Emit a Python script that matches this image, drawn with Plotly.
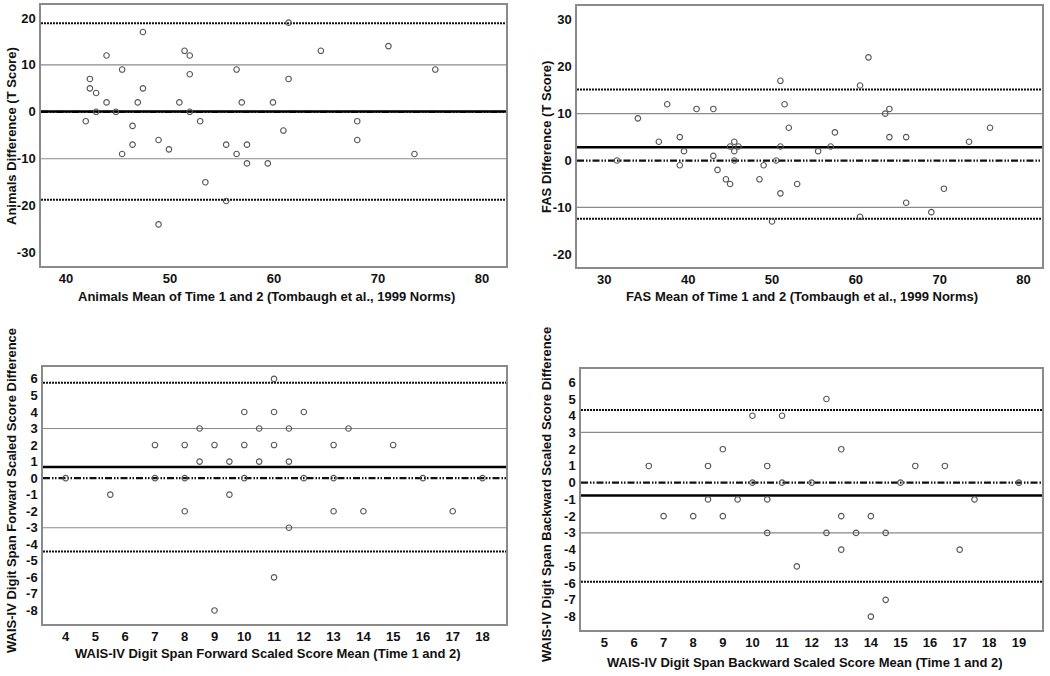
import plotly.graph_objects as go

# ---------------- data ----------------
# Animals (top-left)
animals_mean = [41.9, 42.3, 42.3, 42.9, 42.9, 43.9, 43.9, 44.8, 45.4, 45.4, 46.4, 46.4, 46.9,
                47.4, 47.4, 48.9, 48.9, 49.9, 50.9, 51.4, 51.9, 51.9, 51.9, 52.9, 53.4, 55.4,
                55.4, 56.4, 56.4, 56.9, 57.4, 57.4, 59.4, 59.9, 60.9, 61.4, 61.4, 64.5, 68.0,
                68.0, 71.0, 73.5, 75.5]
animals_diff = [-2, 7, 5, 4, 0, 12, 2, 0, 9, -9, -3, -7, 2,
                17, 5, -6, -24, -8, 2, 13, 12, 8, 0, -2, -15, -7,
                -19, 9, -9, 2, -7, -11, -11, 2, -4, 19, 7, 13, -2,
                -6, 14, -9, 9]
animals_lines = {"mean": 0.05, "upper": 18.85, "lower": -18.75, "ref": 10}

# FAS (top-right)
fas_mean = [31.5, 34.0, 36.5, 37.5, 39.0, 39.0, 39.5, 41.0, 43.0, 43.0, 43.5, 44.5, 45.0,
            45.0, 45.5, 45.5, 45.5, 46.0, 48.5, 49.0, 50.0, 50.5, 51.0, 51.0, 51.0, 51.5,
            52.0, 53.0, 55.5, 57.0, 57.5, 60.5, 60.5, 61.5, 63.5, 64.0, 64.0, 66.0, 66.0,
            69.0, 70.5, 73.5, 76.0]
fas_diff = [0, 9, 4, 12, 5, -1, 2, 11, 11, 1, -2, -4, -5,
            3, 4, 2, 0, 3, -4, -1, -13, 0, 17, 3, -7, 12,
            7, -5, 2, 3, 6, 16, -12, 22, 10, 11, 5, 5, -9,
            -11, -6, 4, 7]
fas_lines = {"mean": 2.85, "upper": 15.15, "lower": -12.4, "ref": 10}

# Digit Span Forward (bottom-left)
dsf_mean = [4, 5.5, 7, 7, 8, 8, 8, 8.5, 8.5, 9, 9, 9.5, 9.5, 10, 10, 10, 10.5, 10.5,
            11, 11, 11, 11, 11.5, 11.5, 11.5, 12, 12, 13, 13, 13, 13.5, 14, 15, 16, 17, 18]
dsf_diff = [0, -1, 2, 0, 2, 0, -2, 3, 1, 2, -8, 1, -1, 4, 2, 0, 3, 1,
            6, 4, 2, -6, 3, 1, -3, 4, 0, 2, 0, -2, 3, -2, 2, 0, -2, 0]
dsf_lines = {"mean": 0.67, "upper": 5.77, "lower": -4.43, "ref": 3}

# Digit Span Backward (bottom-right)
dsb_mean = [6.5, 7, 8, 8.5, 8.5, 9, 9, 9.5, 10, 10, 10.5, 10.5, 10.5, 11, 11, 11.5,
            12, 12.5, 12.5, 13, 13, 13, 13.5, 14, 14, 14.5, 14.5, 15, 15.5, 16.5, 17, 17.5, 19]
dsb_diff = [1, -2, -2, 1, -1, 2, -2, -1, 4, 0, 1, -1, -3, 4, 0, -5,
            0, 5, -3, 2, -2, -4, -3, -2, -8, -3, -7, 0, 1, 1, -4, -1, 0]
dsb_lines = {"mean": -0.77, "upper": 4.34, "lower": -5.92, "ref": 3}

# tick labels
tl_xticks = [40, 50, 60, 70, 80]
tl_yticks = [20, 10, 0, -10, -20, -30]
tr_xticks = [30, 40, 50, 60, 70, 80]
tr_yticks = [30, 20, 10, 0, -10, -20]
bl_xticks = list(range(4, 19))
bl_yticks = list(range(6, -9, -1))
br_xticks = list(range(5, 20))
br_yticks = list(range(6, -9, -1))

# titles
tl_xtitle = "Animals Mean of Time 1 and 2 (Tombaugh et al., 1999 Norms)"
tl_ytitle = "Animals Difference (T Score)"
tr_xtitle = "FAS Mean of Time 1 and 2 (Tombaugh et al., 1999 Norms)"
tr_ytitle = "FAS Difference (T Score)"
bl_xtitle = "WAIS-IV Digit Span Forward Scaled Score Mean (Time 1 and 2)"
bl_ytitle = "WAIS-IV Digit Span Forward Scaled Score Difference"
br_xtitle = "WAIS-IV Digit Span Backward Scaled Score Mean (Time 1 and 2)"
br_ytitle = "WAIS-IV Digit Span Backward Scaled Score Difference"

# ---------------- layout helpers ----------------
W, H = 1050, 676
FONT = "Liberation Sans, Arial, sans-serif"


def px_dom(a, b, total):
    return [a / total, b / total]


def py_dom(top, bottom):
    return [1 - bottom / H, 1 - top / H]


panels = [
    dict(x=animals_mean, y=animals_diff, lines=animals_lines, xt=tl_xticks, yt=tl_yticks,
         xdom=px_dom(41, 506, W), ydom=py_dom(5, 266), xr=[37.6, 82.3], yr=[-32.86, 22.76],
         dashdot=True, xtitle=tl_xtitle, ytitle=tl_ytitle,
         xtpos=(266, 296), ytpos=(11, 136)),
    dict(x=fas_mean, y=fas_diff, lines=fas_lines, xt=tr_xticks, yt=tr_yticks,
         xdom=px_dom(577, 1042, W), ydom=py_dom(6, 267), xr=[26.74, 82.2], yr=[-22.7, 32.95],
         dashdot=True, xtitle=tr_xtitle, ytitle=tr_ytitle,
         xtpos=(802, 296), ytpos=(546, 137)),
    dict(x=dsf_mean, y=dsf_diff, lines=dsf_lines, xt=bl_xticks, yt=bl_yticks,
         xdom=px_dom(43, 506, W), ydom=py_dom(367, 624), xr=[3.24, 18.79], yr=[-8.82, 6.72],
         dashdot=True, xtitle=bl_xtitle, ytitle=bl_ytitle,
         xtpos=(268, 653), ytpos=(11, 491)),
    dict(x=dsb_mean, y=dsb_diff, lines=dsb_lines, xt=br_xticks, yt=br_yticks,
         xdom=px_dom(581, 1042, W), ydom=py_dom(369, 630), xr=[4.21, 19.78], yr=[-8.8, 6.79],
         dashdot=True, xtitle=br_xtitle, ytitle=br_ytitle,
         xtpos=(805, 662), ytpos=(546, 495)),
]

fig = go.Figure()
shapes = []
annotations = []
layout_axes = {}

for i, p in enumerate(panels, start=1):
    xa = "x" if i == 1 else f"x{i}"
    ya = "y" if i == 1 else f"y{i}"
    xkey = "xaxis" if i == 1 else f"xaxis{i}"
    ykey = "yaxis" if i == 1 else f"yaxis{i}"

    L = p["lines"]
    # thin grey reference lines
    for v in (L["ref"], -L["ref"]):
        shapes.append(dict(type="line", xref=f"{xa} domain", yref=ya, x0=0, x1=1, y0=v, y1=v,
                           line=dict(color="#8a8a8a", width=1.2), layer="below"))
    # limits of agreement (dotted)
    for v in (L["upper"], L["lower"]):
        shapes.append(dict(type="line", xref=f"{xa} domain", yref=ya, x0=0, x1=1, y0=v, y1=v,
                           line=dict(color="#111111", width=2, dash="2px,1px"), layer="below"))
    # zero line (dash-dot-dot)
    if p["dashdot"]:
        shapes.append(dict(type="line", xref=f"{xa} domain", yref=ya, x0=0, x1=1, y0=0, y1=0,
                           line=dict(color="#111111", width=2.2,
                                     dash="7px,2px,1.5px,1.5px,1.5px,2px"), layer="below"))
    # mean line
    shapes.append(dict(type="line", xref=f"{xa} domain", yref=ya, x0=0, x1=1,
                       y0=L["mean"], y1=L["mean"],
                       line=dict(color="#000000", width=2.5), layer="below"))

    fig.add_trace(go.Scatter(
        x=p["x"], y=p["y"], mode="markers", xaxis=xa, yaxis=ya, showlegend=False,
        marker=dict(symbol="circle-open", size=5.5, color="#555555", line=dict(width=1.1)),
        hoverinfo="x+y"))

    layout_axes[xkey] = dict(
        domain=p["xdom"], range=p["xr"], anchor=ya, tickvals=p["xt"],
        ticktext=[str(t) for t in p["xt"]], showgrid=False, zeroline=False,
        showline=True, mirror=True, linecolor="#8a8a8a", linewidth=1.5,
        ticks="", ticklabelstandoff=0,
        tickfont=dict(family=FONT, size=13, color="#111111", weight="bold"))
    layout_axes[ykey] = dict(
        domain=p["ydom"], range=p["yr"], anchor=xa, tickvals=p["yt"],
        ticktext=[str(t) for t in p["yt"]], showgrid=False, zeroline=False,
        showline=True, mirror=True, linecolor="#8a8a8a", linewidth=1.5,
        ticks="", ticklabelstandoff=1,
        tickfont=dict(family=FONT, size=13, color="#111111", weight="bold"))

    xt_x, xt_y = p["xtpos"]
    annotations.append(dict(text=p["xtitle"], xref="paper", yref="paper",
                            x=xt_x / W, y=1 - xt_y / H, xanchor="center", yanchor="middle",
                            showarrow=False,
                            font=dict(family=FONT, size=13, color="#111111", weight="bold")))
    yt_x, yt_y = p["ytpos"]
    annotations.append(dict(text=p["ytitle"], xref="paper", yref="paper",
                            x=yt_x / W, y=1 - yt_y / H, xanchor="center", yanchor="middle",
                            textangle=-90, showarrow=False,
                            font=dict(family=FONT, size=13, color="#111111", weight="bold")))

fig.update_layout(
    width=W, height=H, margin=dict(l=0, r=0, t=0, b=0),
    paper_bgcolor="white", plot_bgcolor="white",
    shapes=shapes, annotations=annotations, **layout_axes)

fig.write_html("out.html", config={"displayModeBar": False},
               post_script="document.body.style.margin='0';")
